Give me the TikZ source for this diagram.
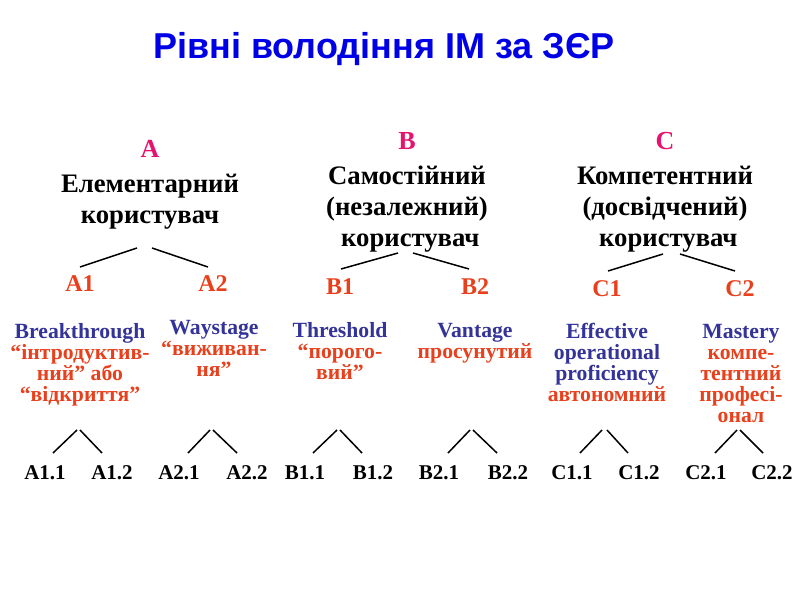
\documentclass[tikz,border=0pt]{standalone}
\usepackage{fontspec}
\setmainfont{Liberation Serif}
\newfontfamily\titlefont{Liberation Sans}
\definecolor{titleblue}{RGB}{0,0,230}
\definecolor{lvlred}{RGB}{230,20,110}
\definecolor{subred}{RGB}{232,64,28}
\definecolor{engblue}{RGB}{51,51,153}
\begin{document}
\begin{tikzpicture}[x=1pt,y=-1pt,
  txt/.style={inner sep=0pt, anchor=base, align=center},
  ttl/.style={txt, text=titleblue, font=\titlefont\bfseries\fontsize{36}{40}\selectfont},
  lvl/.style={txt, text=lvlred, font=\bfseries\fontsize{26}{31}\selectfont},
  head/.style={txt, font=\bfseries\fontsize{26.7}{31}\selectfont},
  sub/.style={txt, text=subred, font=\bfseries\fontsize{24}{28}\selectfont},
  desc/.style={txt, font=\bfseries\fontsize{21.7}{21}\selectfont},
  leaf/.style={txt, font=\bfseries\fontsize{21}{24}\selectfont},
  br/.style={line width=1.5pt}]
\useasboundingbox (0,0) rectangle (800,600);
% title
\node[ttl] (title) at (384,58) {Рівні володіння ІМ за ЗЄР};
% levels
\node[lvl] (A) at (150,157) {A};
\node[lvl] (B) at (407,149) {B};
\node[lvl] (C) at (665,149) {C};
% (base anchor of a multi-line node = baseline of its last line)
\node[head] (hA) at (150,223) {Елементарний\\користувач};
\node[head] (hB) at (407,246) {Самостійний\\(незалежний)\\\ користувач};
\node[head] (hC) at (665,246) {Компетентний\\(досвідчений)\\\ користувач};
% sublevels
\node[sub] (A1) at (80,291) {A1};
\node[sub] (A2) at (213,291) {A2};
\node[sub] (B1) at (340,294) {B1};
\node[sub] (B2) at (475,294) {B2};
\node[sub] (C1) at (607,296) {C1};
\node[sub] (C2) at (740,296) {C2};
% branch coordinates (upper)
\coordinate (a0l) at (137,248); \coordinate (a1t) at (80,267);
\coordinate (a0r) at (152,248); \coordinate (a2t) at (208,267);
\coordinate (b0l) at (398,253); \coordinate (b1t) at (341,269);
\coordinate (b0r) at (413,253); \coordinate (b2t) at (469,269);
\coordinate (c0l) at (663,254); \coordinate (c1t) at (608,271);
\coordinate (c0r) at (680,254); \coordinate (c2t) at (735,271);
\draw[br] (a0l) -- (a1t); \draw[br] (a0r) -- (a2t);
\draw[br] (b0l) -- (b1t); \draw[br] (b0r) -- (b2t);
\draw[br] (c0l) -- (c1t); \draw[br] (c0r) -- (c2t);
% descriptions
\node[desc] (dA1) at (80,401) {\textcolor{engblue}{Breakthrough}\\\textcolor{subred}{“інтродуктив-}\\\textcolor{subred}{ний” або}\\\textcolor{subred}{“відкриття”}};
\node[desc] (dA2) at (214,376) {\textcolor{engblue}{Waystage}\\\textcolor{subred}{“виживан-}\\\textcolor{subred}{ня”}};
\node[desc] (dB1) at (340,379) {\textcolor{engblue}{Threshold}\\\textcolor{subred}{“порого-}\\\textcolor{subred}{вий”}};
\node[desc] (dB2) at (475,358) {\textcolor{engblue}{Vantage}\\\textcolor{subred}{просунутий}};
\node[desc] (dC1) at (607,401) {\textcolor{engblue}{Effective}\\\textcolor{engblue}{operational}\\\textcolor{engblue}{proficiency}\\\textcolor{subred}{автономний}};
\node[desc] (dC2) at (741,422) {\textcolor{engblue}{Mastery}\\\textcolor{subred}{компе-}\\\textcolor{subred}{тентний}\\\textcolor{subred}{професі-}\\\textcolor{subred}{онал}};
% leaves
\node[leaf] (A11) at (45,479) {A1.1};
\node[leaf] (A12) at (112,479) {A1.2};
\node[leaf] (A21) at (179,479) {A2.1};
\node[leaf] (A22) at (247,479) {A2.2};
\node[leaf] (B11) at (305,479) {B1.1};
\node[leaf] (B12) at (373,479) {B1.2};
\node[leaf] (B21) at (439,479) {B2.1};
\node[leaf] (B22) at (508,479) {B2.2};
\node[leaf] (C11) at (572,479) {C1.1};
\node[leaf] (C12) at (639,479) {C1.2};
\node[leaf] (C21) at (706,479) {C2.1};
\node[leaf] (C22) at (772,479) {C2.2};
% lower branch coordinates
\foreach \n/\xl/\xr in {a1/53/77, a2/188/210, b1/313/337, b2/448/470, c1/580/602, c2/715/737}{
  \coordinate (\n lb) at (\xl,453); \coordinate (\n lt) at (\xr,430);
}
\foreach \n/\xl/\xr in {a1/80/102, a2/213/237, b1/340/362, b2/473/497, c1/607/628, c2/740/763}{
  \coordinate (\n rt) at (\xl,430); \coordinate (\n rb) at (\xr,453);
}
\foreach \n in {a1,a2,b1,b2,c1,c2}{
  \draw[br] (\n lb) -- (\n lt);
  \draw[br] (\n rt) -- (\n rb);
}
\end{tikzpicture}
\end{document}
